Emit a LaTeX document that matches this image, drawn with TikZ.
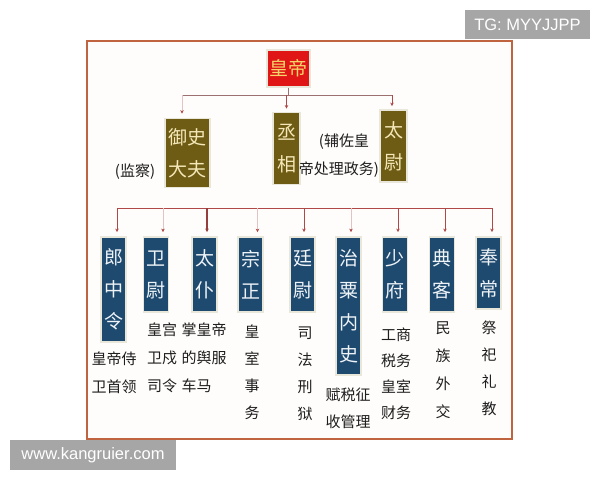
\documentclass[tikz,border=0pt]{standalone}
\usepackage{fontspec}
\setmainfont{Noto Sans CJK SC}
\newfontfamily\wmfont{Liberation Sans}
\usetikzlibrary{arrows.meta}
\definecolor{framec}{HTML}{C0643F}
\definecolor{framebg}{HTML}{FFFDFB}
\definecolor{empred}{HTML}{E01616}
\definecolor{emptext}{HTML}{F6D56A}
\definecolor{olive}{HTML}{6E5B14}
\definecolor{olivetext}{HTML}{F4E8B8}
\definecolor{navy}{HTML}{1F4A6F}
\definecolor{navytext}{HTML}{EEF3F7}
\definecolor{halo}{HTML}{E9E6DA}
\definecolor{conn}{HTML}{B04848}
\definecolor{connfaint}{HTML}{E2C4C4}
\definecolor{busup}{HTML}{9C7070}
\definecolor{wmgray}{HTML}{A6A6A6}
\definecolor{desc}{HTML}{1E1E1E}
\begin{document}
\begin{tikzpicture}[x=1pt,y=-1pt,
  boxbase/.style={draw=halo, line width=1.8pt, inner sep=0pt, align=center},
  empbox/.style={boxbase, fill=empred, text=emptext, font=\fontsize{19}{24}\selectfont, minimum width=43pt, minimum height=37pt},
  upbox/.style={boxbase, fill=olive, text=olivetext, font=\fontsize{19}{32}\selectfont},
  lowbox/.style={boxbase, fill=navy, text=navytext, font=\fontsize{19}{32}\selectfont, minimum width=25pt},
  note/.style={inner sep=0pt, align=center, text=desc, font=\fontsize{15}{28}\selectfont},
  descr/.style={inner sep=0pt, align=center, text=desc, font=\fontsize{15}{28}\selectfont},
  bus/.style={draw=conn, line width=0.9pt},
  drop/.style={draw=conn, line width=0.6pt, -{Stealth[length=3.5pt,width=3.5pt]}},
  faintdrop/.style={draw=connfaint, line width=0.5pt, -{Stealth[length=3.5pt,width=3.5pt,color=conn]}},
  wm/.style={fill=wmgray, text=white, inner sep=0pt, font=\wmfont\fontsize{16.5}{18}\selectfont}
]
\useasboundingbox (0,0) rectangle (600,480);
\fill[white] (0,0) rectangle (600,480);
% frame
\draw[framec, line width=1.3pt, fill=framebg] (87,41) rectangle (512,439);

% top level
\node[empbox] (emp) at (288.5,68.5) {皇帝};

% second level
\node[upbox, minimum width=45pt, minimum height=69pt] (yushi) at (187.5,153) {御史\\大夫};
\node[upbox, minimum width=27pt, minimum height=72pt] (cheng) at (286.5,148.5) {丞\\相};
\node[upbox, minimum width=27pt, minimum height=72pt] (taiwei) at (393.5,146) {太\\尉};

\node[note] (jiancha) at (135,172) {(监察)};
\node[note, font=\fontsize{15}{28}\selectfont] (fuzuo) at (339,156) {\hspace*{10pt}(辅佐皇\\帝处理政务)};

% upper connectors
\coordinate (busL) at (182,95);
\coordinate (busR) at (392,95);
\draw[draw=busup, line width=0.9pt] (busL) -- (busR);
\draw[draw=busup, line width=0.9pt] (emp.south) -- (emp.south |- busL);
\draw[faintdrop, shorten >=4pt] (busL) -- (busL |- yushi.north);
\draw[drop, shorten >=3pt] (cheng.north |- busL) -- (cheng.north);
\draw[drop, shorten >=3pt] (busR) -- (busR |- taiwei.north);

% third level
\node[lowbox, minimum height=105pt] (lang)  at (113.5,289.5) {郎\\中\\令};
\node[lowbox, minimum height=75pt]  (wei)   at (156,274.5)   {卫\\尉};
\node[lowbox, minimum height=75pt]  (taipu) at (204.5,274.5) {太\\仆};
\node[lowbox, minimum height=75pt]  (zong)  at (250.5,274.5) {宗\\正};
\node[lowbox, minimum height=75pt]  (ting)  at (302.5,274.5) {廷\\尉};
\node[lowbox, minimum height=138pt] (zhisu) at (348.5,306)   {治\\粟\\内\\史};
\node[lowbox, minimum height=75pt]  (shao)  at (395,274.5)   {少\\府};
\node[lowbox, minimum height=75pt]  (dian)  at (442,274.5)   {典\\客};
\node[lowbox, minimum height=72pt]  (feng)  at (488.5,273)   {奉\\常};

% lower bus
\coordinate (bus2L) at (117,208);
\coordinate (bus2R) at (492,208);
\draw[bus] (bus2L) -- (bus2R);
\draw[drop, shorten >=4pt] (bus2L) -- (bus2L |- lang.north);
\draw[faintdrop, shorten >=4pt] ([xshift=7pt]wei.north |- bus2L) -- ([xshift=7pt]wei.north);
\draw[drop, line width=1.4pt, draw=conn!85!black, shorten >=4pt] ([xshift=2.5pt]taipu.north |- bus2L) -- ([xshift=2.5pt]taipu.north);
\draw[faintdrop, shorten >=4pt] ([xshift=7pt]zong.north |- bus2L) -- ([xshift=7pt]zong.north);
\draw[drop, shorten >=4pt] ([xshift=1.5pt]ting.north |- bus2L) -- ([xshift=1.5pt]ting.north);
\draw[faintdrop, shorten >=4pt] ([xshift=2.5pt]zhisu.north |- bus2L) -- ([xshift=2.5pt]zhisu.north);
\draw[drop, shorten >=4pt] ([xshift=3pt]shao.north |- bus2L) -- ([xshift=3pt]shao.north);
\draw[drop, shorten >=4pt] ([xshift=3pt]dian.north |- bus2L) -- ([xshift=3pt]dian.north);
\draw[drop, shorten >=4pt] (bus2R) -- (bus2R |- feng.north);

% descriptions
\node[descr] (d1) at (114,372.5) {皇帝侍\\卫首领};
\node[descr] (d2) at (162,358) {皇宫\\卫戍\\司令};
\node[descr, align=left] (d3) at (204,358) {掌皇帝\\的舆服\\车马};
\node[descr, font=\fontsize{15}{27}\selectfont] (d4) at (252,372.5) {皇\\室\\事\\务};
\node[descr, font=\fontsize{15}{27}\selectfont] (d5) at (305,374) {司\\法\\刑\\狱};
\node[descr, font=\fontsize{15}{27}\selectfont] (d6) at (348,408.5) {赋税征\\收管理};
\node[descr, font=\fontsize{15}{26}\selectfont] (d7) at (396,373.5) {工商\\税务\\皇室\\财务};
\node[descr, font=\fontsize{15}{28}\selectfont] (d8) at (443,370) {民\\族\\外\\交};
\node[descr, font=\fontsize{15}{27}\selectfont] (d9) at (489,368) {祭\\祀\\礼\\教};

% watermarks
\node[wm, minimum width=125pt, minimum height=29pt] (tg) at (527.5,24.5) {TG: MYYJJPP};
\node[wm, minimum width=166pt, minimum height=30pt] (www) at (93,455) {www.kangruier.com};
\end{tikzpicture}
\end{document}
